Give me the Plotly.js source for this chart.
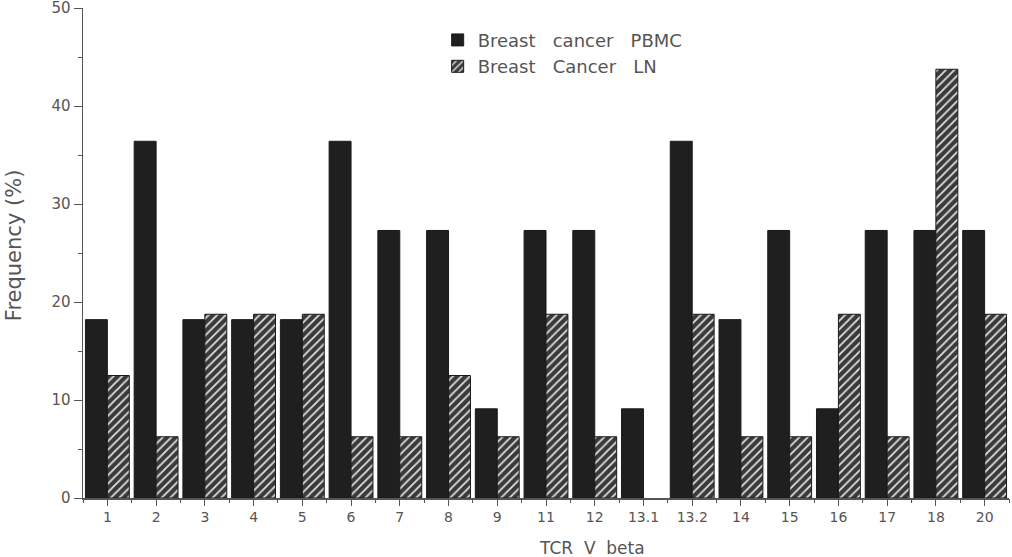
<!DOCTYPE html>
<html>
<head>
<meta charset="utf-8">
<script src="https://cdn.plot.ly/plotly-3.0.1.min.js"></script>
<style>html,body{margin:0;padding:0;background:#fff;}#chart{width:1012px;height:557px;}</style>
</head>
<body>
<div id="chart"></div>
<script>
const categories = ["1","2","3","4","5","6","7","8","9","11","12","13.1","13.2","14","15","16","17","18","20"];
const pbmcValues = [18.2,36.4,18.2,18.2,18.2,36.4,27.3,27.3,9.1,27.3,27.3,9.1,36.4,18.2,27.3,9.1,27.3,27.3,27.3];
const lnValues = [12.5,6.25,18.75,18.75,18.75,6.25,6.25,12.5,6.25,18.75,6.25,0,18.75,6.25,6.25,18.75,6.25,43.75,18.75];
const seriesNames = ["Breast\u00a0\u00a0\u00a0cancer\u00a0\u00a0\u00a0PBMC","Breast\u00a0\u00a0\u00a0Cancer\u00a0\u00a0\u00a0LN"];
const yTicks = [0,10,20,30,40,50];

const font = "DejaVu Sans, Arial, sans-serif";
const traces = [
  {type:"bar", name:seriesNames[0], x:categories, y:pbmcValues,
   marker:{color:"#1f1f1f", line:{color:"#1a1a1a", width:1}}},
  {type:"bar", name:seriesNames[1], x:categories, y:lnValues,
   marker:{color:"#3a3a3a", line:{color:"#1a1a1a", width:lnValues.map(v => v > 0 ? 1 : 0)},
     pattern:{shape:"/", fgcolor:"#e0e0e0", bgcolor:"#3a3a3a", size:6, solidity:0.3}}},
  {type:"scatter", mode:"markers", x:categories, y:categories.map(()=>null),
   xaxis:"x2", showlegend:false, hoverinfo:"skip", marker:{opacity:0}}
];
const layout = {
  width:1012, height:557,
  margin:{l:83, r:3, t:8, b:59},
  paper_bgcolor:"#fff", plot_bgcolor:"#fff",
  barmode:"group", bargap:0.1, bargroupgap:0,
  font:{family:font, color:"#555", size:14},
  showlegend:true,
  legend:{x:0.383, xanchor:"left", y:0.972, yanchor:"top", bgcolor:"rgba(0,0,0,0)",
    font:{size:18, color:"#555", family:font}, tracegroupgap:0, itemwidth:30},
  xaxis:{type:"category", categoryorder:"array", categoryarray:categories, range:[-0.5,18.5],
    showline:true, linecolor:"#555", linewidth:1.5, ticks:"outside", ticklen:6, tickcolor:"#555",
    tickfont:{size:14, color:"#555"}, showgrid:false, zeroline:false},
  xaxis2:{type:"category", categoryorder:"array", categoryarray:categories, range:[-0.5,18.5],
    overlaying:"x", anchor:"y", side:"bottom", tickson:"boundaries", ticks:"outside", ticklen:4,
    tickcolor:"#555", showticklabels:false, showline:false, showgrid:false, zeroline:false},
  yaxis:{range:[0,50], tickvals:yTicks, ticktext:yTicks.map(String), showline:true, linecolor:"#555", linewidth:1.5,
    ticks:"outside", ticklen:8, tickcolor:"#555", tickfont:{size:15, color:"#555"}, ticklabeloverflow:"allow",
    minor:{dtick:5, ticks:"outside", ticklen:4, tickcolor:"#555"},
    showgrid:false, zeroline:false},
  annotations:[
    {text:"Frequency (%)", xref:"paper", yref:"paper", x:-0.0745, y:0.516, xanchor:"center", yanchor:"middle",
     textangle:-90, showarrow:false, font:{size:21, color:"#555", family:font}},
    {text:"TCR\u00a0\u00a0V\u00a0\u00a0beta", xref:"paper", yref:"paper", x:0.55, y:-0.102, xanchor:"center", yanchor:"middle",
     showarrow:false, font:{size:17, color:"#555", family:font}}
  ]
};
Plotly.newPlot("chart", traces, layout, {staticPlot:true});
</script>
</body>
</html>
